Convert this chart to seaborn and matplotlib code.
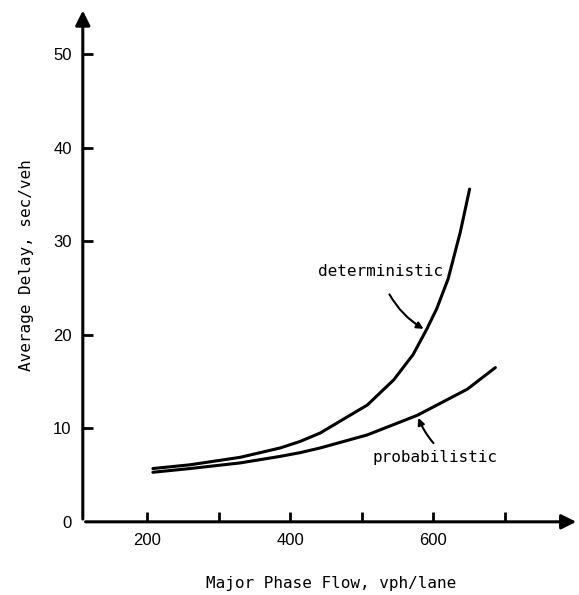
import numpy as np
import pandas as pd
import matplotlib
matplotlib.use('Agg')
import matplotlib.pyplot as plt
import seaborn as sns

# flow (vph/lane) and average delay (sec/veh)
det_flow = [208, 260, 330, 386, 414, 442, 508, 545, 572, 591, 605, 621, 638, 651]
det_delay = [5.7, 6.1, 6.9, 7.9, 8.6, 9.5, 12.5, 15.2, 17.9, 20.6, 22.8, 26.0, 31.0, 35.6]
prob_flow = [208, 260, 330, 386, 414, 442, 508, 578, 648, 687]
prob_delay = [5.3, 5.7, 6.3, 7.0, 7.4, 7.9, 9.3, 11.4, 14.2, 16.5]

x_ticks = [200, 300, 400, 500, 600, 700]
x_labels = ['200', '', '400', '', '600', '']
y_ticks = [0, 10, 20, 30, 40, 50]

df = pd.concat([
    pd.DataFrame({'flow': det_flow, 'delay': det_delay, 'model': 'deterministic'}),
    pd.DataFrame({'flow': prob_flow, 'delay': prob_delay, 'model': 'probabilistic'}),
])

sns.set_style('white')
plt.rcParams['font.family'] = ['DejaVu Sans Mono', 'DejaVu Sans']
plt.rcParams.update({'text.color': 'black', 'axes.labelcolor': 'black',
                     'xtick.color': 'black', 'ytick.color': 'black'})

fig = plt.figure(figsize=(5.79, 5.95), dpi=100)
ax = fig.add_axes([0.143, 0.123, 0.857, 0.864])

sns.lineplot(data=df, x='flow', y='delay', units='model', estimator=None,
             color='black', lw=2.2, ax=ax, sort=False)

ax.set_xlim(110, 804)
ax.set_ylim(0, 55)
for s in ax.spines.values():
    s.set_visible(False)

# axes drawn as arrows
ax.annotate('', xy=(1, 0), xytext=(0, 0), xycoords='axes fraction',
            arrowprops=dict(arrowstyle='-|>', lw=2.2, color='k', mutation_scale=22))
ax.annotate('', xy=(0, 1), xytext=(0, 0), xycoords='axes fraction',
            arrowprops=dict(arrowstyle='-|>', lw=2.2, color='k', mutation_scale=22))

ax.set_xticks(x_ticks)
ax.set_xticklabels(x_labels)
ax.set_yticks(y_ticks)
ax.tick_params(axis='both', direction='in', length=7, width=2, color='k',
               labelsize=11, pad=8)
ax.tick_params(axis='x', bottom=True)
ax.tick_params(axis='y', left=True)
for lab in ax.get_xticklabels() + ax.get_yticklabels():
    lab.set_family('Liberation Sans')
    lab.set_fontsize(12)
ax.yaxis.get_major_ticks()[0].tick1line.set_visible(False)

ax.set_xlabel('Major Phase Flow, vph/lane', fontsize=11.5, labelpad=20)
ax.set_ylabel('Average Delay, sec/veh', fontsize=11.5, labelpad=14)

ax.text(526, 26.8, 'deterministic', fontsize=11.5, ha='center', va='center')
ax.annotate('', xy=(590, 20.5), xytext=(537, 24.6),
            arrowprops=dict(arrowstyle='-|>', lw=1.5, color='k',
                            connectionstyle='arc3,rad=0.15', mutation_scale=10))
ax.text(603, 6.9, 'probabilistic', fontsize=11.5, ha='center', va='center')
ax.annotate('', xy=(578, 11.4), xytext=(603, 8.2),
            arrowprops=dict(arrowstyle='-|>', lw=1.5, color='k',
                            connectionstyle='arc3,rad=-0.1', mutation_scale=10))

fig.savefig('out.png', dpi=100)
